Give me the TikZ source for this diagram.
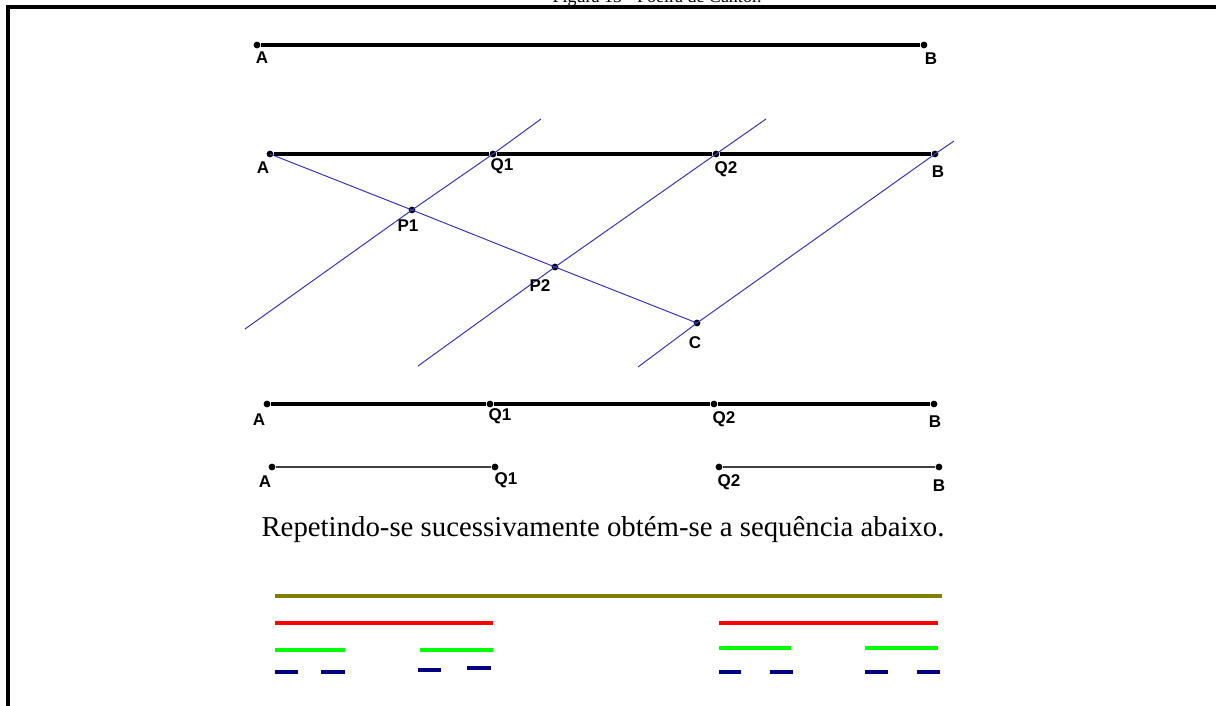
\documentclass[tikz,border=0pt]{standalone}
\usepackage{fontspec}
\setmainfont{Liberation Serif}
\setsansfont{Liberation Sans}
\usetikzlibrary{positioning}
\definecolor{cabriblue}{RGB}{55,55,185}
\definecolor{olivebar}{RGB}{128,128,0}
\definecolor{navybar}{RGB}{0,0,128}
\tikzstyle{pt} = [circle, fill, inner sep=0pt, minimum size=3.4pt]
\tikzstyle{lbl} = [font=\sffamily\bfseries\fontsize{8.5}{9}\selectfont, inner sep=0pt]
\tikzstyle{seg} = [line width=2pt]
\tikzstyle{ray} = [cabriblue, line width=0.5pt]
\tikzstyle{bar} = [line width=2.3pt]

\begin{document}
\begin{tikzpicture}[x=0.5pt, y=-0.5pt]
    \useasboundingbox (0,0) rectangle (1216,706);

    % frame and cut caption
    \begin{scope}
        \clip (0,0) rectangle (1216,706);
        \node (cap) [font=\fontsize{9}{10}\selectfont, anchor=base] at (657,3) {Figura 13 - Poeira de Cantor.};
        \draw [line width=1.6pt] (8,706) -- (8,7) -- (1216,7);
    \end{scope}

    % segment AB
    \node (A1) [pt] at (257,45) {};
    \node (B1) [pt] at (924,45) {};
    \draw [seg] (A1) -- (B1);
    \node (lA1) [lbl] at (262,58) {A};
    \node (lB1) [lbl] at (931,59) {B};

    % construction
    \node (A2) [pt] at (270,154) {};
    \node (Q12) [pt] at (493,154) {};
    \node (Q22) [pt] at (716,154) {};
    \node (B2) [pt] at (935,154) {};
    \node (P1) [pt] at (412,210) {};
    \node (P2) [pt] at (555,267) {};
    \node (C) [pt] at (697,323) {};
    \coordinate (r1s) at (245,329);
    \coordinate (r1e) at (541,119);
    \coordinate (r2s) at (418,366);
    \coordinate (r2e) at (766,119);
    \coordinate (r3s) at (638,367);
    \coordinate (r3e) at (954,141);
    \draw [ray] (A2.center) -- (P1.center) -- (P2.center) -- (C.center);
    \draw [ray] (r1s) -- (P1.center) -- (Q12.center) -- (r1e);
    \draw [ray] (r2s) -- (P2.center) -- (Q22.center) -- (r2e);
    \draw [ray] (r3s) -- (C.center) -- (B2.center) -- (r3e);
    \draw [seg] (A2) -- (Q12) -- (Q22) -- (B2);
    \node (lA2) [lbl] at (263,168) {A};
    \node (lQ12) [lbl] at (502,166) {Q1};
    \node (lQ22) [lbl] at (726,169) {Q2};
    \node (lB2) [lbl] at (938,172) {B};
    \node (lP1) [lbl] at (408,226) {P1};
    \node (lP2) [lbl] at (540,286) {P2};
    \node (lC) [lbl] at (695,343) {C};

    % divided segment
    \node (A3) [pt] at (267,404) {};
    \node (Q13) [pt] at (490,404) {};
    \node (Q23) [pt] at (714,404) {};
    \node (B3) [pt] at (934,404) {};
    \draw [seg] (A3) -- (Q13) -- (Q23) -- (B3);
    \node (lA3) [lbl] at (259,420) {A};
    \node (lQ13) [lbl] at (500,416) {Q1};
    \node (lQ23) [lbl] at (724,419) {Q2};
    \node (lB3) [lbl] at (935,422) {B};

    % middle third removed
    \node (A4) [pt] at (272,467) {};
    \node (Q14) [pt] at (495,467) {};
    \node (Q24) [pt] at (719,467) {};
    \node (B4) [pt] at (939,467) {};
    \draw [black!75, line width=0.9pt] (A4) -- (Q14);
    \draw [black!75, line width=0.9pt] (Q24) -- (B4);
    \node (lA4) [lbl] at (265,482) {A};
    \node (lQ14) [lbl] at (506,480) {Q1};
    \node (lQ24) [lbl] at (729,482) {Q2};
    \node (lB4) [lbl] at (939,486) {B};

    \node (txt) [font=\fontsize{14.4}{16}\selectfont] at (603,530) {Repetindo-se sucessivamente obtém-se a sequência abaixo.};

    % sequence
    \draw [bar, olivebar] (275,596) -- (942,596);
    \draw [bar, red] (275,623) -- (493,623);
    \draw [bar, red] (719,623) -- (938,623);
    \draw [bar, green] (275,650) -- (345,650);
    \draw [bar, green] (420,650) -- (493,650);
    \draw [bar, green] (719,648) -- (791,648);
    \draw [bar, green] (865,648) -- (938,648);
    \draw [bar, navybar] (275,672) -- (298,672);
    \draw [bar, navybar] (321,672) -- (345,672);
    \draw [bar, navybar] (418,670) -- (441,670);
    \draw [bar, navybar] (467,668) -- (491,668);
    \draw [bar, navybar] (719,672) -- (741,672);
    \draw [bar, navybar] (770,672) -- (793,672);
    \draw [bar, navybar] (865,672) -- (888,672);
    \draw [bar, navybar] (917,672) -- (940,672);
\end{tikzpicture}
\end{document}
